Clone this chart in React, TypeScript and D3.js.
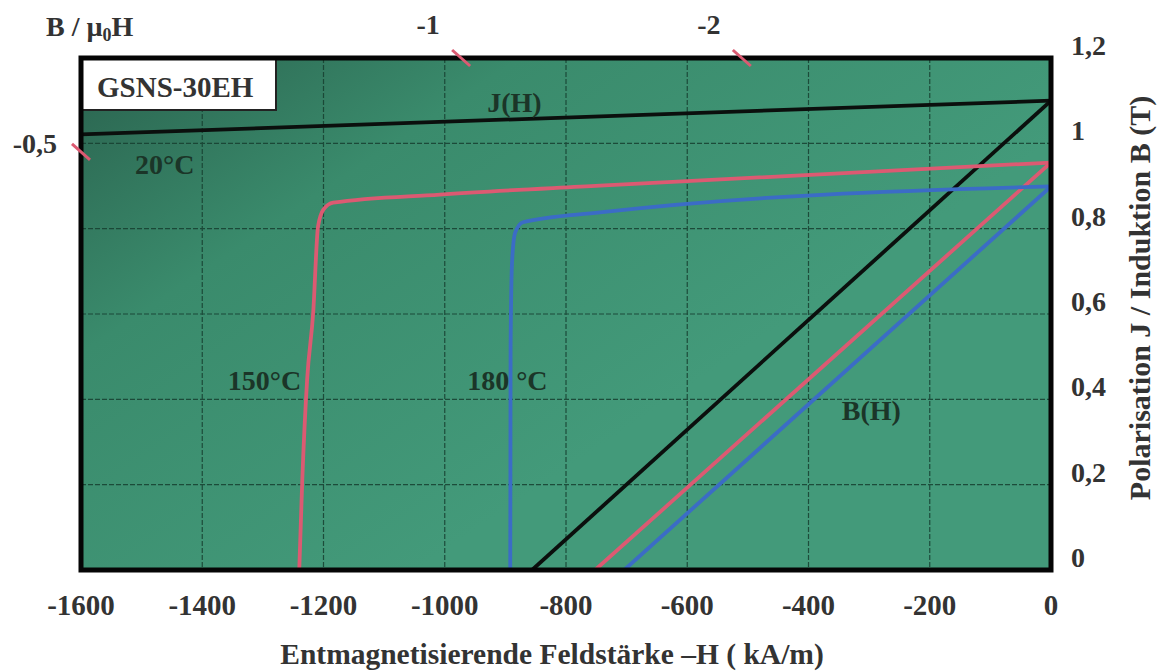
import React from 'react';
import * as d3 from 'd3';

// field strength H in kA/m, polarisation / induction in T
const xTicks = [-1600, -1400, -1200, -1000, -800, -600, -400, -200, 0];
const yTicks = [0, 0.2, 0.4, 0.6, 0.8, 1, 1.2];
const yTickLabels = ['0', '0,2', '0,4', '0,6', '0,8', '1', '1,2'];

// J(H) curves
const j20H = [-1600, 0];
const j20 = [1.021, 1.1];
const j150H = [-1240, -1235, -1227, -1217, -1209, -1200, -1184, -1008, -744, 0];
const j150 = [0, 0.211, 0.446, 0.603, 0.805, 0.845, 0.861, 0.88, 0.901, 0.955];
const j180H = [-892, -891.7, -891.4, -889, -884, -871, -744, 0];
const j180 = [0, 0.211, 0.523, 0.721, 0.79, 0.815, 0.838, 0.899];

// B(H) lines
const b20H = [-856, 0];
const b20 = [0, 1.1];
const b150H = [-752, 0];
const b150 = [0, 0.955];
const b180H = [-704, 0];
const b180 = [0, 0.899];

// permeance (B / µ0H) marks on the frame
const loadLabels = ['-0,5', '-1', '-2'];
const loadH = [-1600, -973, -510];
const loadB = [0.98, 1.2, 1.2];

const curveLabels = ['J(H)', '20°C', '150°C', '180 °C', 'B(H)'];
const curveLabelH = [-930, -1511, -1358, -963, -345];
const curveLabelB = [1.073, 0.927, 0.422, 0.422, 0.352];

const W = 1160;
const H = 671;
const RED = '#dc5a72';
const BLUE = '#3b6cc6';
const FONT = '"Liberation Serif", "Times New Roman", serif';

const zip = (hs: number[], vs: number[]) => hs.map((h, i) => [h, vs[i]] as [number, number]);

export default function App() {
  const x = d3.scaleLinear().domain([-1600, 0]).range([81, 1051]);
  const y = d3.scaleLinear().domain([0, 1.2]).range([570, 58]);

  const smooth = d3
    .line<[number, number]>()
    .x(d => x(d[0]))
    .y(d => y(d[1]))
    .curve(d3.curveMonotoneX);

  const series = [
    { pts: zip(j20H, j20), color: '#0b0f0d' },
    { pts: zip(b20H, b20), color: '#0b0f0d' },
    { pts: zip(j150H, j150), color: RED },
    { pts: zip(b150H, b150), color: RED },
    { pts: zip(j180H, j180), color: BLUE },
    { pts: zip(b180H, b180), color: BLUE },
  ];

  const [x0, x1] = x.range();
  const [y0, y1] = y.range();

  return (
    <svg width={W} height={H} style={{ position: 'absolute', left: 0, top: 0, background: '#fff' }}>
      <defs>
        <linearGradient id="bg" x1="0" y1="0" x2="0.7" y2="0.55">
          <stop offset="0" stopColor="#2a624e" />
          <stop offset="0.4" stopColor="#3a8b6c" />
          <stop offset="1" stopColor="#439a7a" />
        </linearGradient>
        <clipPath id="plot">
          <rect x={x0} y={y1} width={x1 - x0} height={y0 - y1} />
        </clipPath>
      </defs>

      <rect x={x0} y={y1} width={x1 - x0} height={y0 - y1} fill="url(#bg)" />

      {/* grid */}
      <g stroke="#173f30" strokeWidth={1.2} strokeDasharray="5,2" opacity={0.85}>
        {xTicks.slice(1, -1).map(t => (
          <line key={'gx' + t} x1={x(t)} x2={x(t)} y1={y1} y2={y0} />
        ))}
        {yTicks.slice(1, -1).map(t => (
          <line key={'gy' + t} x1={x0} x2={x1} y1={y(t)} y2={y(t)} />
        ))}
      </g>

      {/* curves */}
      <g clipPath="url(#plot)" fill="none" strokeWidth={3.8} strokeLinejoin="round">
        {series.map((s, i) => (
          <path key={i} d={smooth(s.pts) || ''} stroke={s.color} />
        ))}
      </g>

      {/* curve labels */}
      <g fontFamily={FONT} fontWeight="bold" fontSize={28} fill="#1b3528">
        {curveLabels.map((l, i) => (
          <text key={l} x={x(curveLabelH[i])} y={y(curveLabelB[i])}>
            {l}
          </text>
        ))}
      </g>

      {/* grade box */}
      <rect x={x0} y={y1} width={195} height={52} fill="#fff" stroke="#222" strokeWidth={2} />
      <text x={97} y={97} fontFamily={FONT} fontWeight="bold" fontSize={29} fill="#333">
        GSNS-30EH
      </text>

      {/* frame */}
      <rect x={x0} y={y1} width={x1 - x0} height={y0 - y1} fill="none" stroke="#050505" strokeWidth={5} />

      {/* permeance marks */}
      <g stroke={RED} strokeWidth={3}>
        {loadH.map((h, i) => (
          <line key={i} x1={x(h) - 9} y1={y(loadB[i]) - 8} x2={x(h) + 9} y2={y(loadB[i]) + 8} />
        ))}
      </g>
      <g fontFamily={FONT} fontWeight="bold" fontSize={28} fill="#333">
        <text x={46} y={36}>
          B / µ<tspan fontSize={18} dy={5}>0</tspan>
          <tspan dy={-5}>H</tspan>
        </text>
        {loadH.map((h, i) =>
          i === 0 ? (
            <text key={i} x={x(h) - 24} y={y(loadB[i]) + 1} textAnchor="end">
              {loadLabels[i]}
            </text>
          ) : (
            <text key={i} x={x(h) - 33} y={34} textAnchor="middle">
              {loadLabels[i]}
            </text>
          )
        )}
      </g>

      {/* bottom axis */}
      <g fontFamily={FONT} fontWeight="bold" fontSize={29} fill="#333" textAnchor="middle">
        {xTicks.map(t => (
          <text key={t} x={x(t)} y={615}>
            {t === 0 ? '0' : String(t)}
          </text>
        ))}
        <text x={552} y={664} fontSize={29.5}>
          Entmagnetisierende Feldstärke –H ( kA/m)
        </text>
      </g>

      {/* right axis */}
      <g fontFamily={FONT} fontWeight="bold" fontSize={28} fill="#333">
        {yTicks.map((t, i) => (
          <text key={t} x={1071} y={y(t) - 3}>
            {yTickLabels[i]}
          </text>
        ))}
        <text transform={`translate(1150,298) rotate(-90)`} textAnchor="middle" fontSize={30}>
          Polarisation J / Induktion B (T)
        </text>
      </g>
    </svg>
  );
}
